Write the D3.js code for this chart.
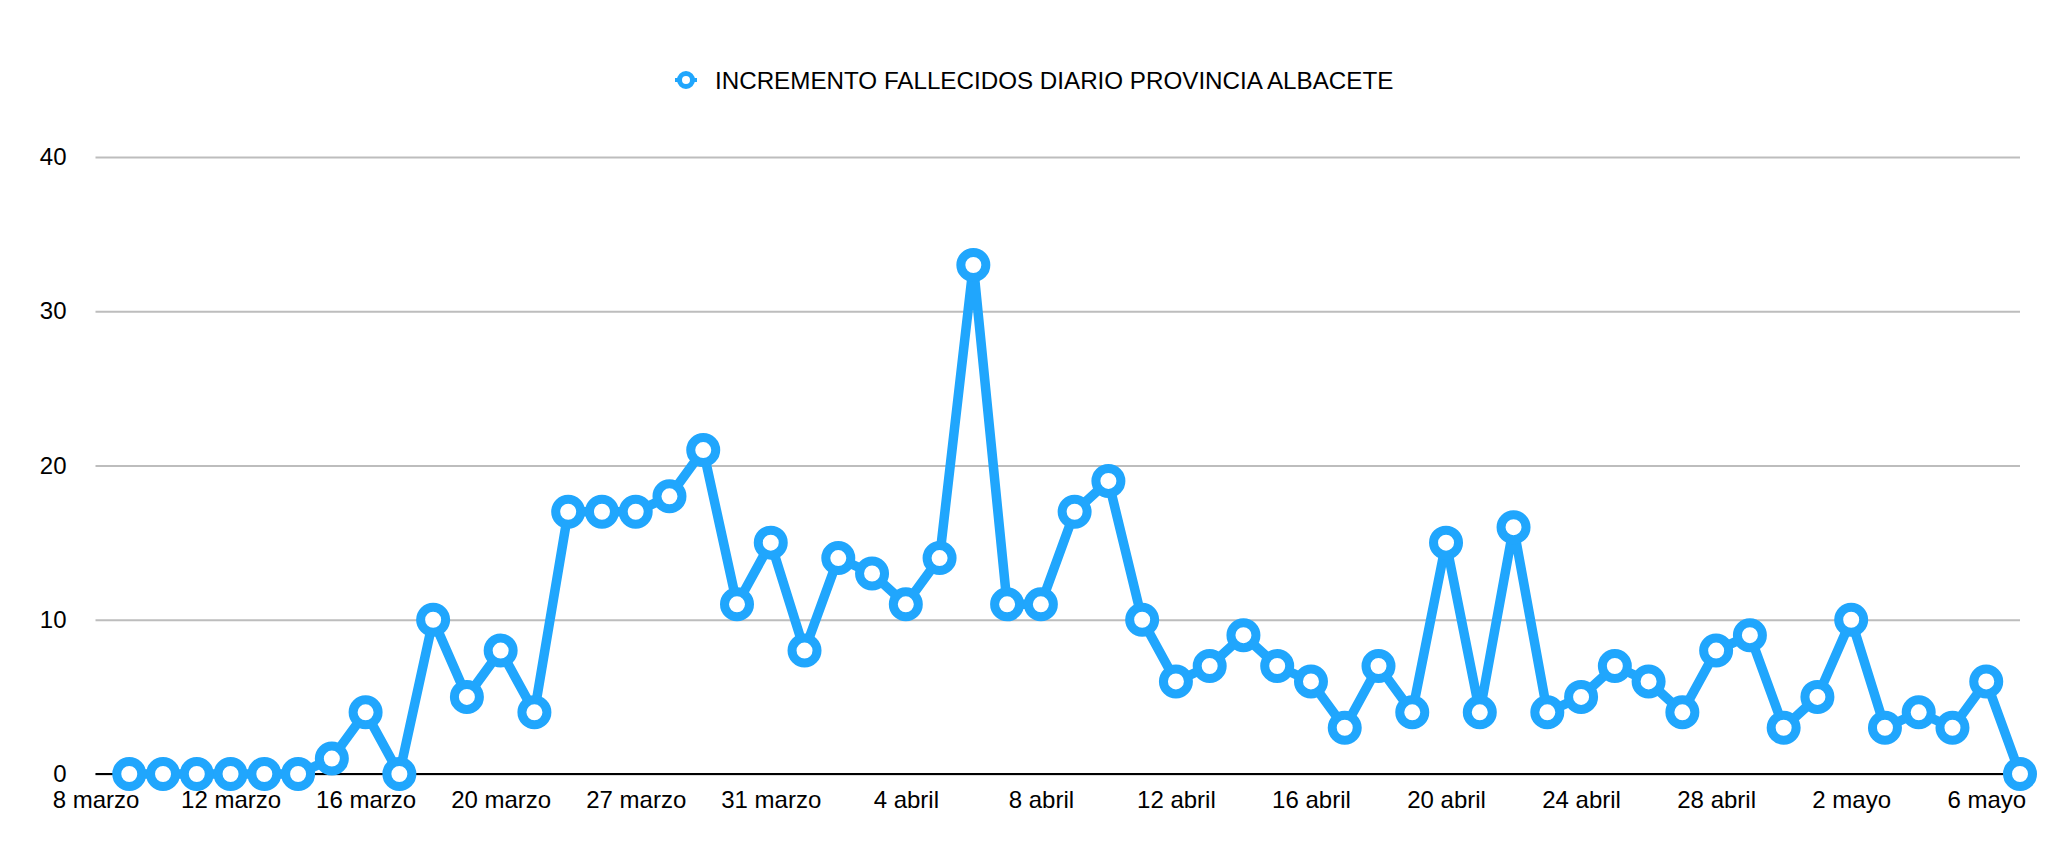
<!DOCTYPE html>
<html>
<head>
<meta charset="utf-8">
<script src="https://cdn.jsdelivr.net/npm/d3@7"></script>
<style>
  body { margin: 0; background: #fff; }
  svg { display: block; font-family: "Liberation Sans", Arial, Helvetica, sans-serif; }
  .grid line { stroke: #bdbdbd; stroke-width: 2; }
  .grid .domain { display: none; }
</style>
</head>
<body>
<div class="chart-container"></div>
<script>
const totalWidth = 2048;
const totalHeight = 852;

const seriesName = "INCREMENTO FALLECIDOS DIARIO PROVINCIA ALBACETE";

// tick labels sit on every 4th category, starting at category 0
const tickLabels = ["8 marzo", "12 marzo", "16 marzo", "20 marzo", "27 marzo", "31 marzo",
    "4 abril", "8 abril", "12 abril", "16 abril", "20 abril", "24 abril", "28 abril",
    "2 mayo", "6 mayo"];

// daily values, first one at category 1
const values = [0, 0, 0, 0, 0, 0, 1, 4, 0, 10, 5, 8, 4, 17, 17, 17, 18, 21, 11, 15,
    8, 14, 13, 11, 14, 33, 11, 11, 17, 19, 10, 6, 7, 9, 7, 6, 3, 7, 4, 15,
    4, 16, 4, 5, 7, 6, 4, 8, 9, 3, 5, 10, 3, 4, 3, 6, 0];

const yTicks = [0, 10, 20, 30, 40];

const blue = "#20a6fd";
const plotLeft = 95.5, plotRight = 2020, plotTop = 157, plotBottom = 774;

const svg = d3.select(".chart-container")
    .append("svg")
    .attr("width", totalWidth)
    .attr("height", totalHeight);

const scaleX = d3.scaleLinear()
    .domain([0, values.length])
    .range([plotLeft, plotRight]);

const scaleY = d3.scaleLinear()
    .domain([0, 40])
    .range([plotBottom, plotTop]);

// horizontal grid + y labels
const yAxis = svg.append("g")
    .attr("class", "grid")
    .attr("transform", `translate(${plotLeft},0)`)
    .call(d3.axisLeft(scaleY)
        .tickValues(yTicks)
        .tickSize(-(plotRight - plotLeft))
        .tickPadding(29));
yAxis.selectAll("text")
    .attr("font-size", 24)
    .attr("fill", "#000")
    .attr("font-family", "Liberation Sans, Arial, sans-serif");

// zero line
svg.append("line")
    .attr("x1", plotLeft).attr("x2", plotRight)
    .attr("y1", scaleY(0)).attr("y2", scaleY(0))
    .attr("stroke", "#000").attr("stroke-width", 2);

// x labels
const xAxis = svg.append("g")
    .attr("transform", `translate(0,${plotBottom})`)
    .call(d3.axisBottom(scaleX)
        .tickValues(tickLabels.map((d, i) => i * 4))
        .tickFormat((d, i) => tickLabels[i])
        .tickSize(0));
xAxis.select(".domain").remove();
xAxis.selectAll("text")
    .attr("y", 34)
    .attr("dy", null)
    .attr("font-size", 24)
    .attr("fill", "#000")
    .attr("font-family", "Liberation Sans, Arial, sans-serif");

// line
const line = d3.line()
    .x((d, i) => scaleX(i + 1))
    .y(d => scaleY(d));

svg.append("path")
    .datum(values)
    .attr("d", line)
    .attr("fill", "none")
    .attr("stroke", blue)
    .attr("stroke-width", 9.5)
    .attr("stroke-linejoin", "round");

svg.selectAll(".dot")
    .data(values)
    .enter()
    .append("circle")
    .attr("class", "dot")
    .attr("cx", (d, i) => scaleX(i + 1))
    .attr("cy", d => scaleY(d))
    .attr("r", 12.5)
    .attr("fill", "#fff")
    .attr("stroke", blue)
    .attr("stroke-width", 9);

// legend
const legend = svg.append("g").attr("transform", "translate(686,80)");
legend.append("line")
    .attr("x1", -11).attr("x2", 11)
    .attr("stroke", blue)
    .attr("stroke-width", 4);
legend.append("circle")
    .attr("r", 6.5)
    .attr("fill", "#fff")
    .attr("stroke", blue)
    .attr("stroke-width", 5);
legend.append("text")
    .attr("x", 29)
    .attr("y", 8.5)
    .attr("font-size", 24.2)
    .attr("fill", "#000")
    .text(seriesName);
</script>
</body>
</html>
